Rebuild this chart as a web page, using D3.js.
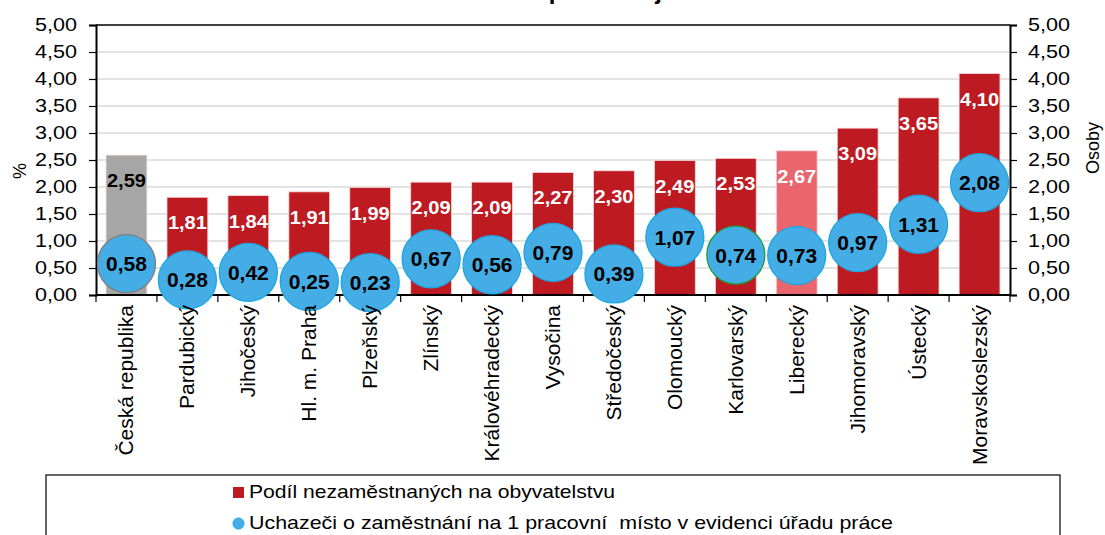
<!DOCTYPE html>
<html>
<head>
<meta charset="utf-8">
<script src="https://cdn.jsdelivr.net/npm/d3@7"></script>
<style>
  body { margin: 0; background: #fff; }
  svg { font-family: "Liberation Sans", Arial, sans-serif; }
</style>
</head>
<body>
<div id="chart"></div>
<script>
// regions sorted by unemployment share
const regions = ["Česká republika", "Pardubický", "Jihočeský", "Hl. m. Praha", "Plzeňský", "Zlínský",
  "Královéhradecký", "Vysočina", "Středočeský", "Olomoucký", "Karlovarský", "Liberecký",
  "Jihomoravský", "Ústecký", "Moravskoslezský"];
const shareValues = [2.59, 1.81, 1.84, 1.91, 1.99, 2.09, 2.09, 2.27, 2.30, 2.49, 2.53, 2.67, 3.09, 3.65, 4.10];
const applicantValues = [0.58, 0.28, 0.42, 0.25, 0.23, 0.67, 0.56, 0.79, 0.39, 1.07, 0.74, 0.73, 0.97, 1.31, 2.08];
const tickValues = [0, 0.5, 1, 1.5, 2, 2.5, 3, 3.5, 4, 4.5, 5];
const legendLabels = ["Podíl nezaměstnaných na obyvatelstvu",
  "Uchazeči o zaměstnání na 1 pracovní  místo v evidenci úřadu práce"];

const width = 1105, height = 535;
const margin = {top: 25, left: 96, right: 95, bottom: 240};
const fmt = v => d3.format(".2f")(v).replace(".", ",");

const svg = d3.select("#chart").append("svg")
  .attr("width", width)
  .attr("height", height);

const x = d3.scaleBand()
  .domain(regions)
  .range([margin.left, width - margin.right])
  .paddingInner(0.33)
  .paddingOuter(0.165);

const y = d3.scaleLinear().domain([0, 5]).range([height - margin.bottom, margin.top]);
const y2 = d3.scaleLinear().domain([0, 5]).range([height - margin.bottom, margin.top]);

// title - only its descenders show at the top edge
svg.append("text")
  .attr("x", 514).attr("y", -1)
  .attr("text-anchor", "middle")
  .attr("font-size", 24).attr("font-weight", "bold")
  .text("Nezaměstnanost podle krajů");

// gridlines
svg.append("g")
  .selectAll("line")
  .data(tickValues.slice(1))
  .enter().append("line")
  .attr("x1", margin.left).attr("x2", width - margin.right)
  .attr("y1", d => y(d)).attr("y2", d => y(d))
  .attr("stroke", d => d === 5 ? "#000" : "#c8c8c8")
  .attr("stroke-width", d => d === 5 ? 1.5 : 1.2);

// bars
const barColor = (d, i) => i === 0 ? "#a6a6a6" : (d === "Liberecký" ? "#e9666f" : "#be1a22");
svg.append("g")
  .selectAll("rect")
  .data(regions)
  .enter().append("rect")
  .attr("x", d => x(d))
  .attr("y", (d, i) => y(shareValues[i]))
  .attr("width", x.bandwidth())
  .attr("height", (d, i) => y(0) - y(shareValues[i]))
  .attr("fill", barColor)
  .attr("stroke", "#f3d6d6")
  .attr("stroke-width", 0.8);

// bar labels
svg.append("g")
  .selectAll("text")
  .data(regions)
  .enter().append("text")
  .attr("x", d => x(d) + x.bandwidth() / 2)
  .attr("y", (d, i) => y(shareValues[i]) + 32)
  .attr("text-anchor", "middle")
  .attr("font-size", 18).attr("font-weight", "bold")
  .attr("textLength", 39).attr("lengthAdjust", "spacingAndGlyphs")
  .attr("fill", (d, i) => i === 0 ? "#000" : "#fff")
  .text((d, i) => fmt(shareValues[i]));

// axes
const yAxis = d3.axisLeft(y).tickValues(tickValues).tickFormat(fmt).tickSize(7).tickPadding(12);
const gy = svg.append("g").attr("transform", `translate(${margin.left},0)`).call(yAxis);
const y2Axis = d3.axisRight(y2).tickValues(tickValues).tickFormat(fmt).tickSize(7).tickPadding(11);
const gy2 = svg.append("g").attr("transform", `translate(${width - margin.right},0)`).call(y2Axis);
[gy, gy2].forEach(g => {
  g.select(".domain").attr("stroke", "#000").attr("stroke-width", 2);
  g.selectAll(".tick line").attr("stroke", "#000").attr("stroke-width", 1.2);
  g.selectAll("text").attr("font-size", 18).attr("fill", "#000")
    .attr("textLength", 42).attr("lengthAdjust", "spacingAndGlyphs")
    .style("font-family", "'Liberation Sans', Arial, sans-serif");
});

// category axis
const base = y(0);
svg.append("line")
  .attr("x1", margin.left).attr("x2", width - margin.right)
  .attr("y1", base).attr("y2", base)
  .attr("stroke", "#000").attr("stroke-width", 2);
const step = x.step();
svg.append("g")
  .selectAll("line")
  .data(d3.range(regions.length + 1))
  .enter().append("line")
  .attr("x1", i => margin.left + i * step).attr("x2", i => margin.left + i * step)
  .attr("y1", base).attr("y2", base + 7)
  .attr("stroke", "#000").attr("stroke-width", 1.2);

// circles (right axis)
const dots = svg.append("g")
  .selectAll("g")
  .data(regions)
  .enter().append("g")
  .attr("transform", (d, i) => `translate(${x(d) + x.bandwidth() / 2},${y2(applicantValues[i])})`);
dots.append("circle")
  .attr("r", 29)
  .attr("fill", "#45ade6")
  .attr("stroke", (d, i) => i === 0 ? "#7f7f7f" : (d === "Karlovarský" ? "#1f9c3c" : "#1ea6e0"))
  .attr("stroke-width", 1.3);
dots.append("text")
  .attr("y", 7.5)
  .attr("text-anchor", "middle")
  .attr("font-size", 21).attr("font-weight", "bold")
  .attr("fill", "#000")
  .text((d, i) => fmt(applicantValues[i]));

// category labels
svg.append("g")
  .selectAll("text")
  .data(regions)
  .enter().append("text")
  .attr("transform", d => `translate(${x(d) + x.bandwidth() / 2 + 7},${base + 10}) rotate(-90)`)
  .attr("text-anchor", "end")
  .attr("font-size", 21)
  .attr("fill", "#000")
  .text(d => d);

// axis titles
svg.append("text")
  .attr("transform", "translate(26,171) rotate(-90)")
  .attr("text-anchor", "middle")
  .attr("font-size", 18)
  .text("%");
svg.append("text")
  .attr("transform", "translate(1099,148) rotate(-90)")
  .attr("text-anchor", "middle")
  .attr("font-size", 18)
  .text("Osoby");

// legend
const legend = svg.append("g");
legend.append("rect")
  .attr("x", 46).attr("y", 475)
  .attr("width", 1014).attr("height", 80)
  .attr("fill", "#fff")
  .attr("stroke", "#000").attr("stroke-width", 1.2);
legend.append("rect")
  .attr("x", 233).attr("y", 487)
  .attr("width", 11).attr("height", 11)
  .attr("fill", "#be1a22");
legend.append("text")
  .attr("x", 249).attr("y", 498)
  .attr("font-size", 18.5)
  .attr("textLength", 366).attr("lengthAdjust", "spacingAndGlyphs")
  .text(legendLabels[0]);
legend.append("circle")
  .attr("cx", 238.5).attr("cy", 523.5)
  .attr("r", 5.5)
  .attr("fill", "#45ade6")
  .attr("stroke", "#1ea6e0");
legend.append("text")
  .attr("x", 249).attr("y", 529)
  .attr("font-size", 18.5)
  .attr("textLength", 644).attr("lengthAdjust", "spacingAndGlyphs")
  .style("white-space", "pre")
  .text(legendLabels[1]);
</script>
</body>
</html>
